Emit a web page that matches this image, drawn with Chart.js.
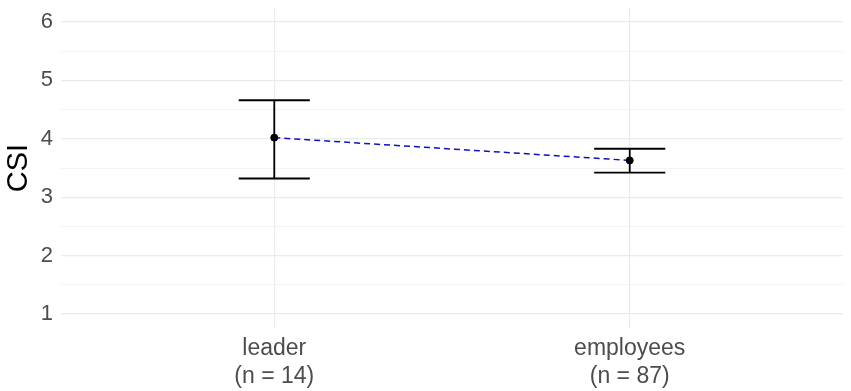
<!DOCTYPE html>
<html>
<head>
<meta charset="utf-8">
<script src="https://cdn.jsdelivr.net/npm/chart.js@4"></script>
<style>
  body { margin: 0; background: #fff; }
  #wrap { width: 851px; height: 391px; }
</style>
</head>
<body>
<div id="wrap"><canvas id="csiChart" width="851" height="391"></canvas></div>
<script>
// groups on the x axis
const groups = ['leader', 'employees'];
const groupSizes = [14, 87];
// mean CSI and error bar ends per group
const means = [4.02, 3.63];
const lower = [3.32, 3.42];
const upper = [4.66, 3.83];
const yTicks = [1, 2, 3, 4, 5, 6];
const yMinorTicks = [1.5, 2.5, 3.5, 4.5, 5.5];

const points = groups.map((g, i) => ({ x: i + 1, y: means[i] }));

// draws the error bars (whisker + caps) using the chart scales
const errorBarPlugin = {
  id: 'errorBars',
  afterDatasetsDraw(chart) {
    const ctx = chart.ctx;
    const xs = chart.scales.x;
    const ys = chart.scales.y;
    ctx.save();
    ctx.strokeStyle = '#000';
    ctx.lineWidth = 1.8;
    groups.forEach((g, i) => {
      const x = xs.getPixelForValue(i + 1);
      const x0 = xs.getPixelForValue(i + 1 - 0.1);
      const x1 = xs.getPixelForValue(i + 1 + 0.1);
      const yLo = ys.getPixelForValue(lower[i]);
      const yHi = ys.getPixelForValue(upper[i]);
      ctx.beginPath();
      ctx.moveTo(x, yLo); ctx.lineTo(x, yHi);
      ctx.moveTo(x0, yLo); ctx.lineTo(x1, yLo);
      ctx.moveTo(x0, yHi); ctx.lineTo(x1, yHi);
      ctx.stroke();
    });
    ctx.restore();
  }
};

const csiChart = new Chart(document.getElementById('csiChart').getContext('2d'), {
  type: 'scatter',
  data: {
    datasets: [{
      type: 'line',
      data: points,
      borderColor: '#1010c8',
      borderWidth: 1.5,
      borderDash: [6, 4],
      pointRadius: 0,
      fill: false,
      order: 2
    }, {
      data: points,
      backgroundColor: '#000',
      borderColor: '#000',
      pointRadius: 3.5,
      order: 1
    }]
  },
  options: {
    responsive: false,
    animation: false,
    events: [],
    layout: { padding: { top: 8, right: 8, left: 0, bottom: 0 } },
    plugins: { legend: { display: false }, tooltip: { enabled: false } },
    scales: {
      x: {
        type: 'linear',
        min: 0.4,
        max: 2.6,
        afterBuildTicks: axis => { axis.ticks = groups.map((g, i) => ({ value: i + 1 })); },
        afterFit: axis => { axis.height = 63; axis.paddingLeft = 0; axis.paddingRight = 0; },
        border: { display: false },
        grid: { color: '#ebebeb', lineWidth: 1.2, drawTicks: false },
        ticks: {
          padding: 7,
          color: '#4d4d4d',
          font: { family: 'Liberation Sans', size: 23, lineHeight: 1.22 },
          callback: v => {
            const i = Math.round(v) - 1;
            return [groups[i], '(n = ' + groupSizes[i] + ')'];
          }
        }
      },
      y: {
        min: 0.76,
        max: 6.24,
        afterBuildTicks: axis => {
          axis.ticks = yTicks.concat(yMinorTicks).sort((a, b) => a - b).map(v => ({ value: v }));
        },
        afterFit: axis => { axis.width = 61; axis.paddingTop = 0; axis.paddingBottom = 0; },
        border: { display: false },
        grid: {
          drawTicks: false,
          color: c => (Number.isInteger(c.tick.value) ? '#ebebeb' : '#f3f3f3'),
          lineWidth: c => (Number.isInteger(c.tick.value) ? 1.2 : 1)
        },
        ticks: {
          padding: 8,
          color: '#4d4d4d',
          font: { family: 'Liberation Sans', size: 22 },
          callback: v => (yTicks.includes(v) ? String(v) : '')
        },
        title: {
          display: true,
          text: 'CSI',
          color: '#000',
          padding: { top: 2, bottom: 0 },
          font: { family: 'Liberation Sans', size: 29 }
        }
      }
    }
  },
  plugins: [errorBarPlugin]
});
</script>
</body>
</html>
